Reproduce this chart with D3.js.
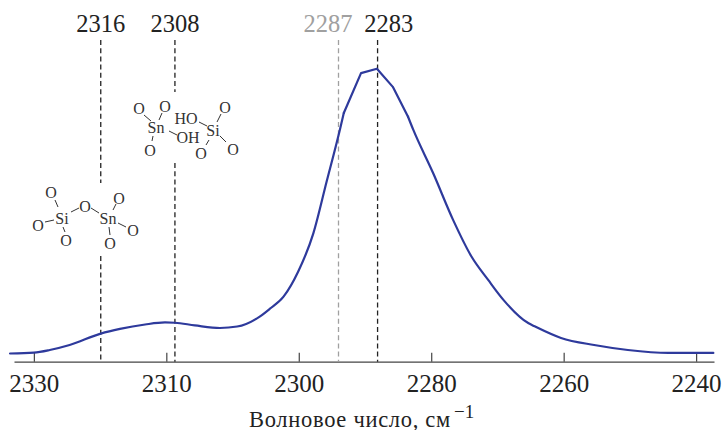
<!DOCTYPE html>
<html>
<head>
<meta charset="utf-8">
<script src="https://cdn.jsdelivr.net/npm/d3@7"></script>
<style>
html, body { margin: 0; padding: 0; background: #fff; }
text { font-family: "Liberation Serif", serif; fill: #222; }
</style>
</head>
<body>
<svg id="chart" width="722" height="430"></svg>
<script>
// axis positions; the printed labels are not evenly numbered, so they stay separate
var tickValues = [2340, 2320, 2300, 2280, 2260, 2240];
var tickLabels = ["2330", "2310", "2300", "2280", "2260", "2240"];

var waveNumber = [2343.6, 2340, 2337.6, 2334.6, 2329.9, 2327, 2323.2, 2320.2, 2318.7, 2315.7,
    2311.9, 2309.3, 2305.9, 2304.4, 2302.3, 2300.1, 2297.8, 2295.8, 2293.8, 2293.2, 2290.6, 2288.2,
    2285.8, 2283.5, 2282.7, 2279.7, 2276.7, 2273.9, 2271.4, 2269.1, 2265.3, 2264.5, 2260.4, 2255.4,
    2250.3, 2244.2, 2237.4];
var intensity = [2.8, 3.1, 4.0, 5.7, 9.6, 11.2, 12.7, 13.4, 13.3, 12.4,
    11.5, 12.0, 15.4, 18, 22.2, 30.7, 43.8, 61.4, 79.1, 84.9, 98.5, 100,
    93.8, 83.6, 79.1, 64.3, 48.4, 35.8, 27.9, 21.1, 13.1, 12.2, 8.1, 5.7,
    4, 3, 3];

var markerLabels = ["2316", "2308", "2287", "2283"];
var markerValues = [2329.9, 2318.7, 2294, 2288.1];
var labelValues = [2329.9, 2318.7, 2295.6, 2286.4]; // the two right labels sit apart from their lines
var markerGray = [false, false, true, false];

var svg = d3.select("#chart");

var x = d3.scaleLinear().domain([2343, 2237.3]).range([14, 714]),
    y = d3.scaleLinear().domain([0, 100]).range([361.7, 68.7]);

var xAxis = d3.axisBottom(x)
    .tickValues(tickValues)
    .tickSizeOuter(0)
    .tickSizeInner(-9)
    .tickPadding(13)
    .tickFormat(function(d, i) { return tickLabels[i]; });

var axisG = svg.append("g")
    .attr("class", "axis")
    .attr("transform", "translate(0," + y(0) + ")")
    .call(xAxis);

axisG.select(".domain").attr("stroke", "#444").attr("stroke-width", 1.3);
axisG.selectAll("line").attr("stroke", "#444").attr("stroke-width", 1.2);
axisG.selectAll("text").style("font-size", "25px").attr("fill", "#222");

// dashed lines, the two left ones are broken where the molecules sit
var gaps = { "2316": [183, 256], "2308": [92, 163] };
markerValues.forEach(function(v, i) {
    var label = markerLabels[i],
        color = markerGray[i] ? "#a0a0a0" : "#222",
        parts = gaps[label] ? [[40, gaps[label][0]], [gaps[label][1], y(0)]] : [[40, y(0)]];

    parts.forEach(function(p) {
        svg.append("line")
            .attr("x1", x(v)).attr("x2", x(v))
            .attr("y1", p[0]).attr("y2", p[1])
            .attr("stroke", color)
            .attr("stroke-width", 1.3)
            .attr("stroke-dasharray", "5,3.2");
    });

    svg.append("text")
        .attr("x", x(labelValues[i]))
        .attr("y", 32)
        .attr("text-anchor", "middle")
        .style("font-size", "24.5px")
        .style("fill", markerGray[i] ? "#a0a0a0" : "#222")
        .text(label);
});

var points = d3.zip(waveNumber, intensity);

var smooth = d3.line()
    .x(function(d) { return x(d[0]); })
    .y(function(d) { return y(d[1]); })
    .curve(d3.curveMonotoneX);

var straight = d3.line()
    .x(function(d) { return x(d[0]); })
    .y(function(d) { return y(d[1]); });

// top of the peak has visible corners in the original, so it stays straight
var peakStart = 19, peakEnd = 23;
var pieces = [
    smooth(points.slice(0, peakStart + 1)),
    straight(points.slice(peakStart, peakEnd + 1)),
    smooth(points.slice(peakEnd))
];

svg.append("g").selectAll("path")
    .data(pieces)
    .enter().append("path")
    .attr("fill", "none")
    .attr("stroke", "#2e3a9c")
    .attr("stroke-width", 2.2)
    .attr("stroke-linejoin", "round")
    .attr("stroke-linecap", "round")
    .attr("d", function(d) { return d; });

// axis title with the superscript
var title = svg.append("text")
    .attr("x", 249)
    .attr("y", 426.5)
    .style("font-size", "22.5px")
    .style("letter-spacing", "0.7px");
title.append("tspan").text("Волновое число, см");
title.append("tspan").attr("dx", 3).attr("dy", -8.5).style("font-size", "19px").style("letter-spacing", "0").text("−1");

// structure drawings
var atoms = [
    ["O", 139, 108], ["O", 165, 106], ["Sn", 156, 127], ["O", 150, 150], ["HO", 186, 118],
    ["OH", 188, 137], ["Si", 213, 130], ["O", 225, 107], ["O", 233, 149], ["O", 201, 153],
    ["O", 51, 192], ["O", 38, 225], ["Si", 62, 218], ["O", 66, 240], ["O", 85, 206],
    ["Sn", 108, 218], ["O", 119, 198], ["O", 133, 230], ["O", 110, 243]
];
var bonds = [
    [144, 115, 151, 121], [162, 113, 159, 120], [153, 136, 152, 141], [169, 131, 177, 135],
    [199, 122, 207, 126], [217, 122, 221, 114], [220, 136, 226, 142], [209, 140, 206, 145],
    [55, 200, 58, 207], [45, 222, 54, 220], [63, 227, 65, 232], [71, 212, 79, 208],
    [91, 208, 99, 213], [113, 210, 116, 204], [118, 223, 126, 227], [109, 227, 110, 235]
];

svg.append("g").selectAll("line")
    .data(bonds)
    .enter().append("line")
    .attr("x1", function(d) { return d[0]; })
    .attr("y1", function(d) { return d[1]; })
    .attr("x2", function(d) { return d[2]; })
    .attr("y2", function(d) { return d[3]; })
    .attr("stroke", "#333")
    .attr("stroke-width", 1);

svg.append("g").selectAll("text")
    .data(atoms)
    .enter().append("text")
    .attr("x", function(d) { return d[1]; })
    .attr("y", function(d) { return d[2] + 5.5; })
    .attr("text-anchor", "middle")
    .style("font-size", "16px")
    .style("fill", "#333")
    .text(function(d) { return d[0]; });
</script>
</body>
</html>
